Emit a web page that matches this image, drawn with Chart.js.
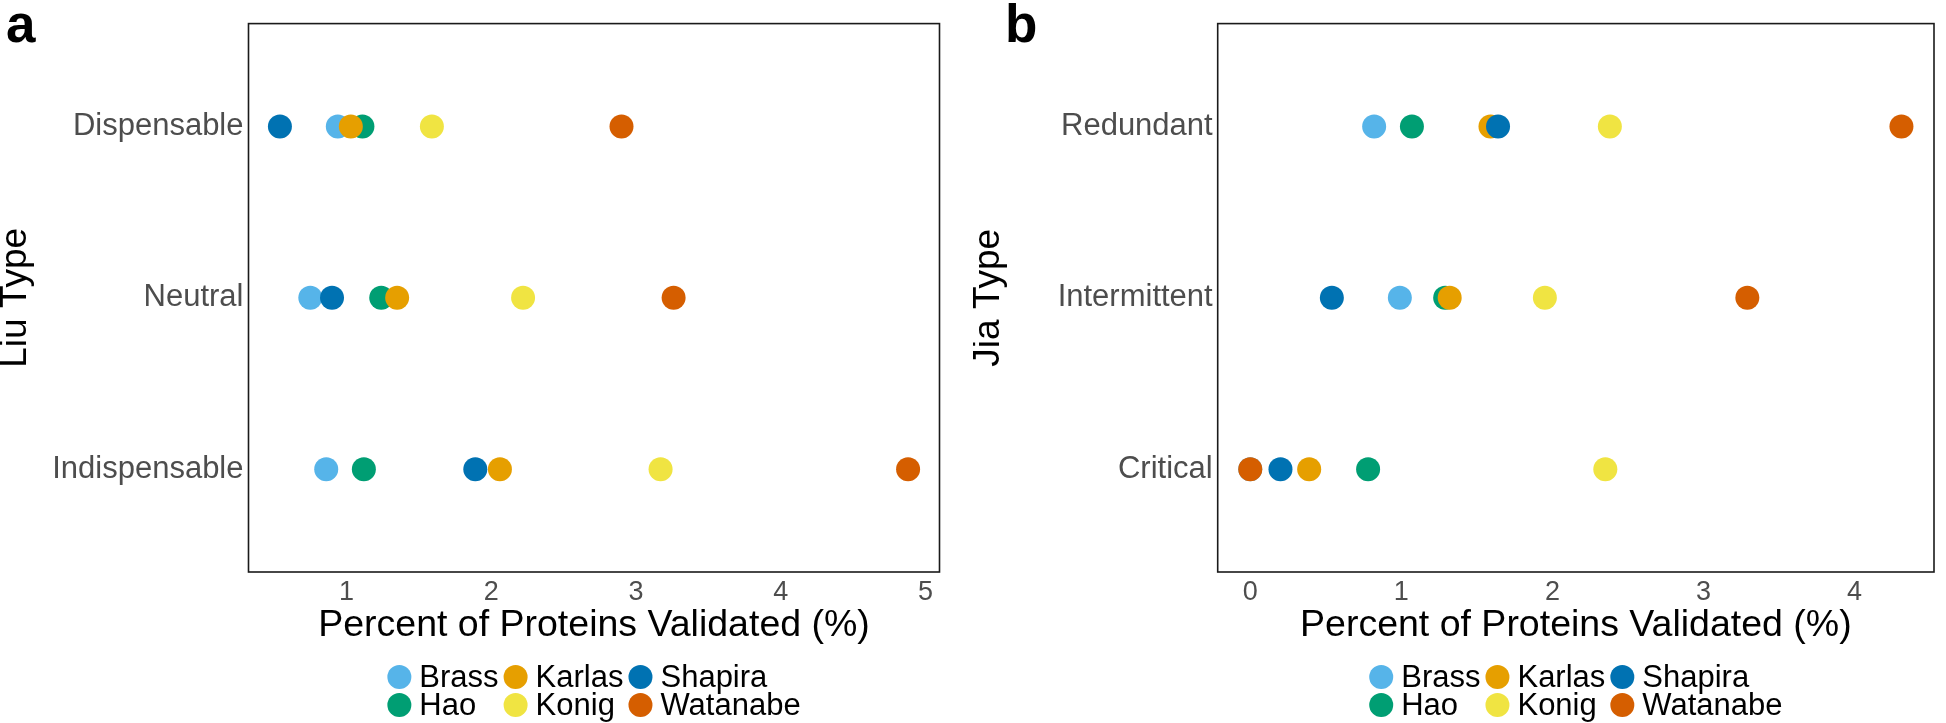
<!DOCTYPE html>
<html><head><meta charset="utf-8">
<script src="https://cdn.jsdelivr.net/npm/chart.js@4.4.1/dist/chart.umd.min.js"></script>
<style>
html,body{margin:0;padding:0;background:#fff;width:1946px;height:723px;overflow:hidden}
.panel{position:absolute;top:0;width:973px;height:723px}
canvas{display:block}
</style></head><body>
<div class="panel" style="left:0"><canvas id="ca" width="973" height="723"></canvas></div>
<div class="panel" style="left:973px"><canvas id="cb" width="973" height="723"></canvas></div>
<script>
// ---- data ----
const seriesNames = ['Brass', 'Hao', 'Karlas', 'Konig', 'Shapira', 'Watanabe'];
const seriesColors = ['#56B4E9', '#009E73', '#E69F00', '#F0E442', '#0072B2', '#D55E00'];

const liuCategories = ['Dispensable', 'Neutral', 'Indispensable'];
const liuBrass    = [0.94, 0.75, 0.86];
const liuHao      = [1.11, 1.24, 1.12];
const liuKarlas   = [1.03, 1.35, 2.06];
const liuKonig    = [1.59, 2.22, 3.17];
const liuShapira  = [0.54, 0.90, 1.89];
const liuWatanabe = [2.90, 3.26, 4.88];
const liuTicks = [1, 2, 3, 4, 5];

const jiaCategories = ['Redundant', 'Intermittent', 'Critical'];
const jiaBrass    = [0.82, 0.99, 0.00];
const jiaHao      = [1.07, 1.29, 0.78];
const jiaKarlas   = [1.59, 1.32, 0.39];
const jiaKonig    = [2.38, 1.95, 2.35];
const jiaShapira  = [1.64, 0.54, 0.20];
const jiaWatanabe = [4.31, 3.29, 0.00];
const jiaTicks = [0, 1, 2, 3, 4];

const xTitle = 'Percent of Proteins Validated (%)';
const FONT = '"Liberation Sans", Arial, Helvetica, sans-serif';

function makePanel(id, letter, letterX, yTitle, categories, seriesValues, xTicks, yAxisWidth, rightPad) {
  const all = seriesValues.flat();
  const lo = Math.min(...all), hi = Math.max(...all);
  const ext = (hi - lo) * 0.05;
  const datasets = seriesNames.map((name, s) => ({
    label: name,
    data: categories.map((c, i) => ({ x: seriesValues[s][i], y: i + 1 })),
    backgroundColor: seriesColors[s],
    borderWidth: 0,
    pointRadius: 12,
    pointHoverRadius: 12,
    order: seriesNames.length - s
  }));

  const panelPlugin = {
    id: 'panelDeco',
    afterDraw(chart) {
      const ctx = chart.ctx, ca = chart.chartArea;
      ctx.save();
      // frame
      ctx.strokeStyle = '#1a1a1a';
      ctx.lineWidth = 1.6;
      ctx.strokeRect(ca.left, ca.top, ca.right - ca.left, ca.bottom - ca.top);
      // panel letter
      ctx.fillStyle = '#000';
      ctx.font = 'bold 53px ' + FONT;
      ctx.textBaseline = 'alphabetic';
      ctx.textAlign = 'left';
      ctx.fillText(letter, letterX, 42);
      // legend (2 rows, column-major)
      ctx.font = '31px ' + FONT;
      const ds = chart.data.datasets;
      const dot = 24, gap = 8, colSpace = 5;
      const rowsY = [677, 705];
      const cols = [];
      for (let c = 0; c < Math.ceil(ds.length / 2); c++) cols.push([2 * c, 2 * c + 1].filter(i => i < ds.length));
      const widths = cols.map(col => dot + gap + Math.max(...col.map(i => ctx.measureText(ds[i].label).width)));
      const total = widths.reduce((a, b) => a + b, 0) + colSpace * (cols.length - 1);
      let x = (ca.left + ca.right) / 2 - total / 2;
      cols.forEach((col, c) => {
        col.forEach((i, r) => {
          ctx.fillStyle = ds[i].backgroundColor;
          ctx.beginPath();
          ctx.arc(x + dot / 2, rowsY[r], dot / 2, 0, Math.PI * 2);
          ctx.fill();
          ctx.fillStyle = '#000';
          ctx.textBaseline = 'middle';
          ctx.fillText(ds[i].label, x + dot + gap, rowsY[r] + 1);
        });
        x += widths[c] + colSpace;
      });
      ctx.restore();
    }
  };

  return new Chart(document.getElementById(id), {
    type: 'scatter',
    data: { datasets },
    options: {
      responsive: false,
      animation: false,
      events: [],
      layout: { padding: { top: 22, right: rightPad, bottom: 74.4, left: 0 } },
      plugins: { legend: { display: false }, tooltip: { enabled: false } },
      scales: {
        x: {
          type: 'linear',
          min: lo - ext,
          max: hi + ext,
          afterBuildTicks: s => { s.ticks = xTicks.map(v => ({ value: v })); },
          afterFit: s => { s.height = 76.6; },
          grid: { display: false, drawTicks: false },
          border: { display: false },
          ticks: { color: '#4D4D4D', font: { family: FONT, size: 27 }, padding: 4 },
          title: { display: true, text: xTitle, color: '#000', font: { family: FONT, size: 37.5 }, padding: 0 }
        },
        y: {
          type: 'linear',
          min: 0.4,
          max: categories.length + 0.6,
          reverse: true,
          afterBuildTicks: s => { s.ticks = categories.map((c, i) => ({ value: i + 1 })); },
          afterFit: s => { s.width = yAxisWidth; },
          grid: { display: false, drawTicks: false },
          border: { display: false },
          ticks: { color: '#4D4D4D', font: { family: FONT, size: 31 }, padding: 5,
                   callback: v => categories[Math.round(v) - 1] },
          title: { display: true, text: yTitle, color: '#000', font: { family: FONT, size: 37, lineHeight: 0.85 }, padding: 0 }
        }
      }
    },
    plugins: [panelPlugin]
  });
}

makePanel('ca', 'a', 6, 'Liu Type', liuCategories,
  [liuBrass, liuHao, liuKarlas, liuKonig, liuShapira, liuWatanabe], liuTicks, 248.5, 33.5);
makePanel('cb', 'b', 32, 'Jia Type', jiaCategories,
  [jiaBrass, jiaHao, jiaKarlas, jiaKonig, jiaShapira, jiaWatanabe], jiaTicks, 244.7, 1.7);
</script>
</body></html>
